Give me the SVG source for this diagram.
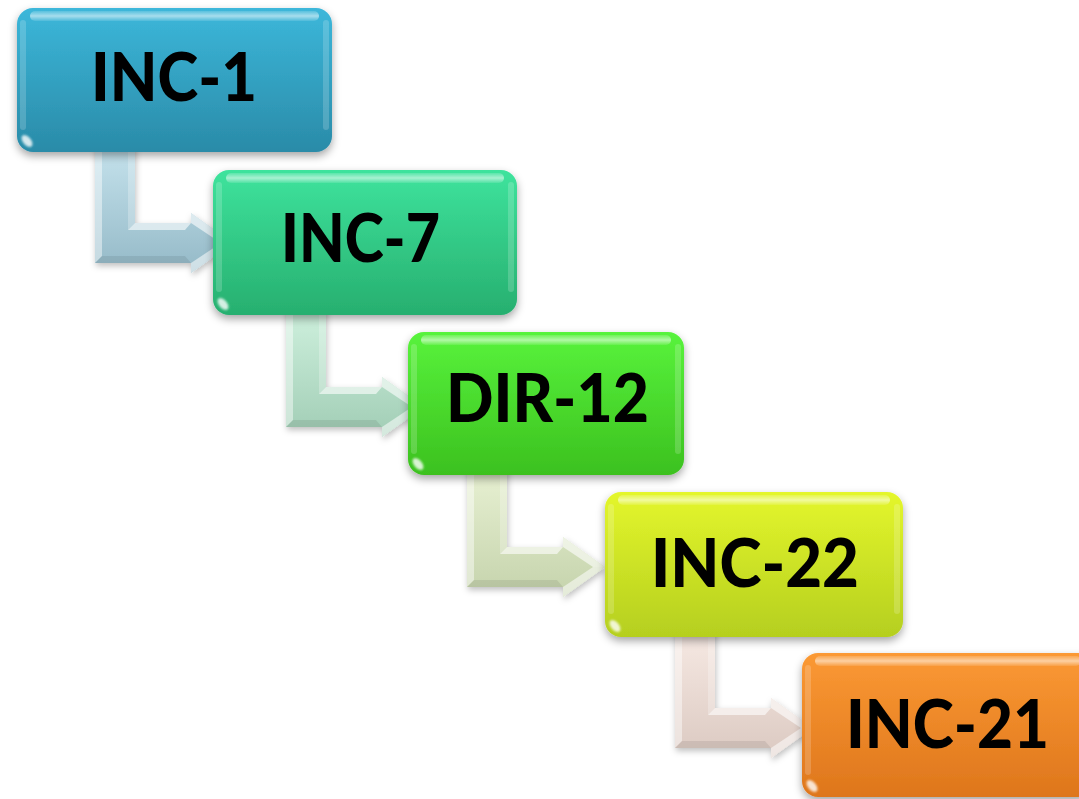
<svg xmlns="http://www.w3.org/2000/svg" xmlns:xlink="http://www.w3.org/1999/xlink" width="1079" height="799" viewBox="0 0 1079 799">
<style>
.lbl{font-family:Lato,"Open Sans","Liberation Sans",sans-serif;font-weight:900;font-size:67px;fill:#000}
.gloss{fill:url(#gloss)}
.glint{fill:#ffffff;opacity:0.8;filter:url(#soft)}
.edge{fill:#ffffff;opacity:0.18}
</style>
<defs>
<filter id="sh" x="-10%" y="-10%" width="120%" height="130%">
<feDropShadow dx="0" dy="4" stdDeviation="4" flood-color="#000" flood-opacity="0.35"/>
</filter>
<filter id="csh" x="-10%" y="-10%" width="130%" height="130%">
<feDropShadow dx="1" dy="3" stdDeviation="3" flood-color="#000" flood-opacity="0.25"/>
</filter>
<filter id="soft" x="-50%" y="-50%" width="200%" height="200%">
<feGaussianBlur stdDeviation="1.2"/>
</filter>
<linearGradient id="gloss" x1="0" y1="0" x2="0" y2="1">
<stop offset="0" stop-color="#fff" stop-opacity="0.15"/>
<stop offset="0.5" stop-color="#fff" stop-opacity="0.55"/>
<stop offset="1" stop-color="#fff" stop-opacity="0.1"/>
</linearGradient>
<linearGradient id="n1" x1="0" y1="0" x2="0" y2="1"><stop offset="0" stop-color="#3cb7da"/><stop offset="1" stop-color="#2a8ba8"/></linearGradient>
<linearGradient id="n2" x1="0" y1="0" x2="0" y2="1"><stop offset="0" stop-color="#3ee39d"/><stop offset="1" stop-color="#27af6f"/></linearGradient>
<linearGradient id="n3" x1="0" y1="0" x2="0" y2="1"><stop offset="0" stop-color="#58f33c"/><stop offset="1" stop-color="#3cc11f"/></linearGradient>
<linearGradient id="n4" x1="0" y1="0" x2="0" y2="1"><stop offset="0" stop-color="#e4f62c"/><stop offset="1" stop-color="#b5cf1f"/></linearGradient>
<linearGradient id="n5" x1="0" y1="0" x2="0" y2="1"><stop offset="0" stop-color="#fb9934"/><stop offset="1" stop-color="#de761c"/></linearGradient>
<linearGradient id="c1" x1="0" y1="0" x2="0" y2="1"><stop offset="0" stop-color="#c6e3ed"/><stop offset="1" stop-color="#94b9c7"/></linearGradient>
<linearGradient id="c2" x1="0" y1="0" x2="0" y2="1"><stop offset="0" stop-color="#cff1de"/><stop offset="1" stop-color="#a1cdb5"/></linearGradient>
<linearGradient id="c3" x1="0" y1="0" x2="0" y2="1"><stop offset="0" stop-color="#e8f1d3"/><stop offset="1" stop-color="#c5d3ac"/></linearGradient>
<linearGradient id="c4" x1="0" y1="0" x2="0" y2="1"><stop offset="0" stop-color="#f7eae4"/><stop offset="1" stop-color="#dbc9c1"/></linearGradient>
<path id="arr" d="M0,-120 H40 V-40 H96 V-50 L138,-20 L96,10 V0 H0 Z"/>
<g id="bev">
<path d="M0,-120 H7 V-7 L0,0 Z" fill="#fff" opacity="0.45"/>
<path d="M33,-120 H40 V-40 L33,-33 Z" fill="#fff" opacity="0.25"/>
<path d="M33,-33 L40,-40 H96 L90,-33 Z" fill="#fff" opacity="0.6"/>
<path d="M0,0 H96 L90,-7 H7 Z" fill="#000" opacity="0.08"/>
<path d="M96,-50 L138,-20 L126,-20 L96,-40 Z" fill="#fff" opacity="0.6"/>
<path d="M96,10 L138,-20 L126,-20 L96,0 Z" fill="#fff" opacity="0.55"/>
</g>
</defs>
<rect width="1079" height="799" fill="#fff"/>
<g id="connectors" filter="url(#csh)">
<g transform="translate(95,263)"><use xlink:href="#arr" fill="url(#c1)"/><use xlink:href="#bev"/></g>
<g transform="translate(286,427)"><use xlink:href="#arr" fill="url(#c2)"/><use xlink:href="#bev"/></g>
<g transform="translate(467,587)"><use xlink:href="#arr" fill="url(#c3)"/><use xlink:href="#bev"/></g>
<g transform="translate(675,748)"><use xlink:href="#arr" fill="url(#c4)"/><use xlink:href="#bev"/></g>
</g>
<g id="node1">
<rect x="17" y="8" width="315" height="144" rx="16" fill="url(#n1)" filter="url(#sh)"/>
<rect x="30" y="11" width="289" height="10" rx="5" class="gloss"/>
<rect x="20" y="20" width="6" height="110" rx="3" class="edge"/>
<rect x="323" y="20" width="6" height="110" rx="3" class="edge"/>
<ellipse cx="27" cy="141" rx="4" ry="7" transform="rotate(-40 27 141)" class="glint"/>
<text x="91" y="101" textLength="166" lengthAdjust="spacingAndGlyphs" class="lbl">INC-1</text>
</g>
<g id="node2">
<rect x="213" y="170" width="304" height="145" rx="16" fill="url(#n2)" filter="url(#sh)"/>
<rect x="226" y="173" width="278" height="10" rx="5" class="gloss"/>
<rect x="216" y="182" width="6" height="110" rx="3" class="edge"/>
<rect x="508" y="182" width="6" height="110" rx="3" class="edge"/>
<ellipse cx="223" cy="304" rx="4" ry="7" transform="rotate(-40 223 304)" class="glint"/>
<text x="281" y="262" textLength="159" lengthAdjust="spacingAndGlyphs" class="lbl">INC-7</text>
</g>
<g id="node3">
<rect x="408" y="332" width="276" height="143" rx="16" fill="url(#n3)" filter="url(#sh)"/>
<rect x="421" y="335" width="250" height="10" rx="5" class="gloss"/>
<rect x="411" y="344" width="6" height="110" rx="3" class="edge"/>
<rect x="675" y="344" width="6" height="110" rx="3" class="edge"/>
<ellipse cx="418" cy="464" rx="4" ry="7" transform="rotate(-40 418 464)" class="glint"/>
<text x="446" y="422" textLength="203" lengthAdjust="spacingAndGlyphs" class="lbl">DIR-12</text>
</g>
<g id="node4">
<rect x="605" y="492" width="298" height="145" rx="16" fill="url(#n4)" filter="url(#sh)"/>
<rect x="618" y="495" width="272" height="10" rx="5" class="gloss"/>
<rect x="608" y="504" width="6" height="110" rx="3" class="edge"/>
<rect x="894" y="504" width="6" height="110" rx="3" class="edge"/>
<ellipse cx="615" cy="626" rx="4" ry="7" transform="rotate(-40 615 626)" class="glint"/>
<text x="651" y="587" textLength="208" lengthAdjust="spacingAndGlyphs" class="lbl">INC-22</text>
</g>
<g id="node5">
<rect x="802" y="653" width="292" height="144" rx="16" fill="url(#n5)" filter="url(#sh)"/>
<rect x="815" y="656" width="266" height="10" rx="5" class="gloss"/>
<rect x="805" y="665" width="6" height="110" rx="3" class="edge"/>
<ellipse cx="812" cy="786" rx="4" ry="7" transform="rotate(-40 812 786)" class="glint"/>
<text x="846" y="748" textLength="203" lengthAdjust="spacingAndGlyphs" class="lbl">INC-21</text>
</g>
</svg>
